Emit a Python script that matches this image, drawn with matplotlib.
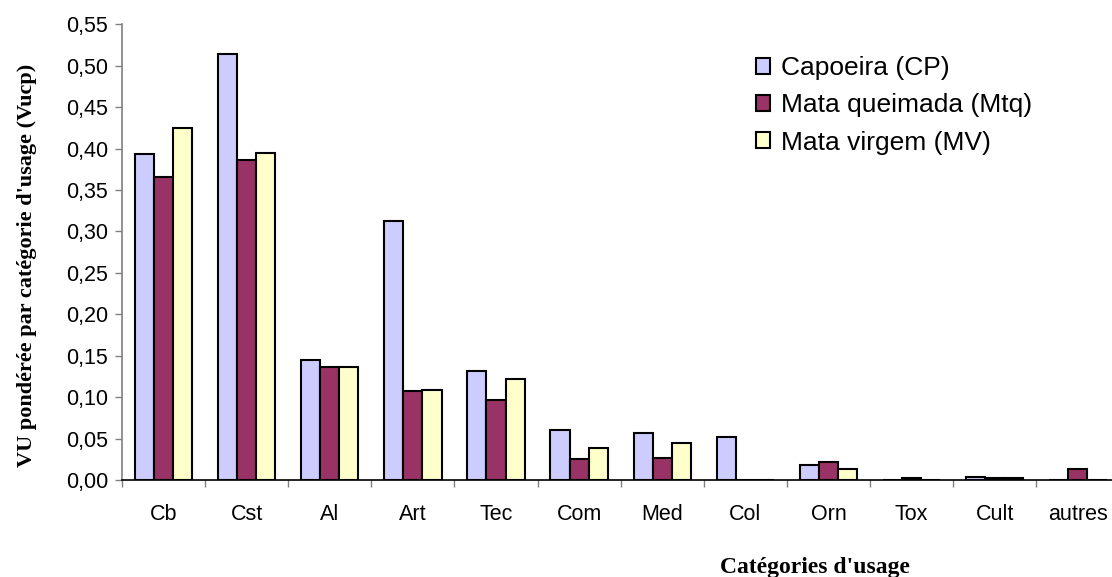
import numpy as np
import matplotlib.pyplot as plt
from matplotlib.ticker import FixedLocator, FuncFormatter

# Valeurs d'usage pondérées par catégorie et par type de végétation
categories = ['Cb', 'Cst', 'Al', 'Art', 'Tec', 'Com', 'Med', 'Col', 'Orn', 'Tox', 'Cult', 'autres']
capoeira = [0.393, 0.514, 0.145, 0.312, 0.132, 0.061, 0.057, 0.052, 0.018, 0.0, 0.004, 0.0]
mata_queimada = [0.366, 0.386, 0.136, 0.107, 0.097, 0.025, 0.027, 0.0, 0.022, 0.002, 0.002, 0.013]
mata_virgem = [0.425, 0.395, 0.136, 0.109, 0.122, 0.039, 0.045, 0.0, 0.013, 0.0, 0.002, 0.0]

series = [
    ('Capoeira (CP)', capoeira, '#CCCCFF'),
    ('Mata queimada (Mtq)', mata_queimada, '#993366'),
    ('Mata virgem (MV)', mata_virgem, '#FFFFCC'),
]

fig = plt.figure(figsize=(11.12, 5.77), dpi=100)
ax = fig.add_axes([0.1097, 0.168, 0.897, 0.790])

x = np.arange(len(categories))
w = 0.23
for i, (label, vals, color) in enumerate(series):
    ax.bar(x + (i - 1) * w, vals, w, color=color, edgecolor='black',
           linewidth=1.5, label=label, zorder=3)

ax.set_xlim(-0.5, len(categories) - 0.5)
ax.set_ylim(0, 0.55)
ax.set_yticks(np.arange(0, 0.551, 0.05))
ax.yaxis.set_major_formatter(FuncFormatter(lambda v, p: f'{v:.2f}'.replace('.', ',')))

# ticks between categories, labels at centres
ax.set_xticks(x)
ax.set_xticklabels(categories)
ax.xaxis.set_minor_locator(FixedLocator(np.arange(-0.5, len(categories), 1.0)))
ax.tick_params(axis='x', which='major', length=0, pad=17, labelsize=15.5)
ax.tick_params(axis='x', which='minor', length=5, width=1, color='#808080')
ax.tick_params(axis='y', length=5, width=1, color='#808080', pad=5, labelsize=15.5)

for side in ('top', 'right'):
    ax.spines[side].set_visible(False)
ax.spines['left'].set_color('#808080')
ax.spines['left'].set_linewidth(1.2)
ax.spines['bottom'].set_color('black')
ax.spines['bottom'].set_linewidth(1.2)

for t in ax.get_xticklabels() + ax.get_yticklabels():
    t.set_family('Liberation Sans')

ax.set_ylabel("VU pondérée par catégorie d'usage (Vucp)", family='Liberation Serif',
              fontweight='bold', fontsize=16, labelpad=10)
ax.yaxis.set_label_coords(-0.085, 0.47)
fig.text(0.733, -0.002, "Catégories d'usage", family='Liberation Serif',
         fontweight='bold', fontsize=17, ha='center', va='bottom')

leg = ax.legend(loc='upper left', bbox_to_anchor=(0.636, 0.93), frameon=False,
                prop={'family': 'Liberation Sans', 'size': 19}, borderpad=0,
                borderaxespad=0, handlelength=0.53, handleheight=0.53,
                handletextpad=0.4, labelspacing=0.5)
for h in leg.legend_handles:
    h.set_linewidth(1.5)

fig.savefig('out.png', dpi=100)
